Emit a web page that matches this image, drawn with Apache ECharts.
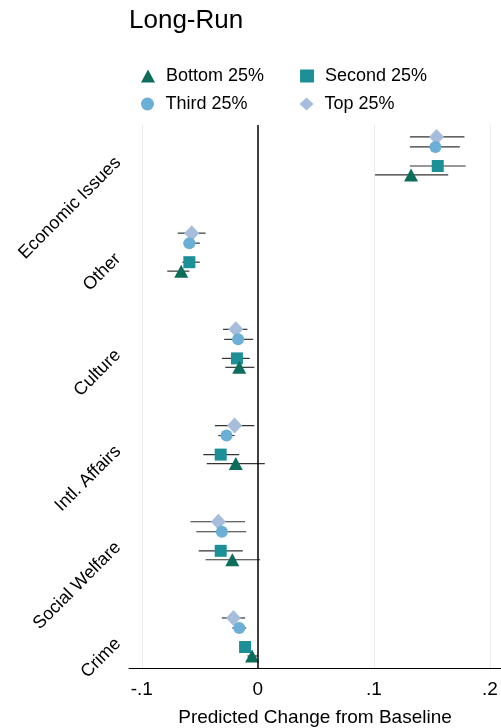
<!DOCTYPE html>
<html>
<head>
<meta charset="utf-8">
<script src="https://cdn.jsdelivr.net/npm/echarts@6/dist/echarts.min.js"></script>
<style>html,body{margin:0;padding:0;background:#fff;}#chart{width:501px;height:728px;}</style>
</head>
<body>
<div id="chart"></div>
<script>
const categories = ['Economic Issues', 'Other', 'Culture', 'Intl. Affairs', 'Social Welfare', 'Crime'];
const seriesNames = ['Bottom 25%', 'Second 25%', 'Third 25%', 'Top 25%'];
const xTicks = [-0.1, 0, 0.1, 0.2];

const bottomEst = [0.132, -0.066, -0.016, -0.019, -0.022, -0.005];
const bottomLo  = [0.101, -0.078, -0.028, -0.044, -0.045, -0.009];
const bottomHi  = [0.164, -0.059, -0.003,  0.006,  0.002,  0.000];

const secondEst = [0.155, -0.059, -0.018, -0.032, -0.032, -0.011];
const secondLo  = [0.131, -0.065, -0.031, -0.047, -0.051, -0.015];
const secondHi  = [0.179, -0.050, -0.007, -0.016, -0.013, -0.007];

const thirdEst = [0.153, -0.059, -0.017, -0.027, -0.031, -0.016];
const thirdLo  = [0.131, -0.064, -0.029, -0.034, -0.053, -0.022];
const thirdHi  = [0.174, -0.050, -0.004, -0.020, -0.010, -0.010];

const topEst = [0.154, -0.057, -0.019, -0.020, -0.034, -0.021];
const topLo  = [0.131, -0.069, -0.030, -0.037, -0.058, -0.031];
const topHi  = [0.178, -0.045, -0.009, -0.003, -0.011, -0.011];

// layout (not data)
const FONT = "Helvetica, 'Liberation Sans', Arial, sans-serif";
const groups = [
  {name: 'Top 25%',    est: topEst,    lo: topLo,    hi: topHi,    off: -0.239, symbol: 'diamond',  size: [15, 16], color: '#a6bddb'},
  {name: 'Third 25%',  est: thirdEst,  lo: thirdLo,  hi: thirdHi,  off: -0.135, symbol: 'circle',   size: 12,       color: '#6baed6'},
  {name: 'Second 25%', est: secondEst, lo: secondLo, hi: secondHi, off: 0.063,  symbol: 'rect',     size: [12, 12], color: '#1d8f97'},
  {name: 'Bottom 25%', est: bottomEst, lo: bottomLo, hi: bottomHi, off: 0.156,  symbol: 'triangle', size: [14, 13], color: '#0b6d5a'}
];

const series = [];
// gridlines + zero line
series.push({
  type: 'scatter', data: [], silent: true, z: 0,
  markLine: {
    silent: true, symbol: ['none', 'none'], label: {show: false}, animation: false,
    data: xTicks.map(v => ({xAxis: v, lineStyle: {color: v === 0 ? '#000' : '#ececec', width: v === 0 ? 1.5 : 1, type: 'solid'}}))
  }
});
// CI lines
groups.forEach(g => {
  series.push({
    type: 'custom', name: g.name + ' CI', silent: true, z: 2,
    data: categories.map((c, i) => [g.lo[i], g.hi[i], i + g.off]),
    encode: {x: [0, 1], y: 2},
    renderItem: (params, api) => {
      const p1 = api.coord([api.value(0), api.value(2)]);
      const p2 = api.coord([api.value(1), api.value(2)]);
      return {type: 'line', shape: {x1: p1[0], y1: p1[1], x2: p2[0], y2: p2[1]}, style: {stroke: '#333', lineWidth: 1.2}};
    }
  });
});
// markers
groups.forEach(g => {
  series.push({
    type: 'scatter', name: g.name, z: 3,
    symbol: g.symbol, symbolSize: g.size,
    itemStyle: {color: g.color, opacity: 1},
    data: categories.map((c, i) => [g.est[i], i + g.off])
  });
});

const iconFor = {'Bottom 25%': 'triangle', 'Second 25%': 'rect', 'Third 25%': 'circle', 'Top 25%': 'diamond'};
const legendBase = {
  orient: 'horizontal', padding: 0, itemWidth: 14, itemHeight: 13,
  textStyle: {fontSize: 18, color: '#000', fontFamily: FONT, padding: [0, 0, 0, 6]},
  selectedMode: false
};

const chart = echarts.init(document.getElementById('chart'), null, {renderer: 'canvas'});
chart.setOption({
  animation: false,
  backgroundColor: '#fff',
  title: {text: 'Long-Run', left: 129, top: 8, padding: 0,
    textStyle: {fontSize: 26, fontWeight: 'normal', color: '#000', fontFamily: FONT}},
  legend: [
    Object.assign({}, legendBase, {left: 141, top: 67, itemGap: 36,
      data: [seriesNames[0], seriesNames[1]].map(n => ({name: n, icon: iconFor[n]}))}),
    Object.assign({}, legendBase, {left: 141, top: 95, itemGap: 52,
      data: [seriesNames[2], seriesNames[3]].map(n => ({name: n, icon: iconFor[n]}))})
  ],
  grid: {left: 129, right: 0, top: 125, bottom: 60, containLabel: false, outerBoundsMode: 'none'},
  xAxis: {
    type: 'value', min: -0.111, max: 0.2095,
    axisLine: {show: true, onZero: false, lineStyle: {color: '#000', width: 1}},
    axisTick: {show: false},
    splitLine: {show: false},
    axisLabel: {
      customValues: xTicks, fontSize: 19, color: '#000', fontFamily: FONT, margin: 12,
      formatter: v => v === 0 ? '0' : String(Math.round(v * 10) / 10).replace('0.', '.')
    },
    name: 'Predicted Change from Baseline', nameLocation: 'middle', nameGap: 40,
    nameTextStyle: {fontSize: 19, color: '#000', fontFamily: FONT}
  },
  yAxis: {
    type: 'value', inverse: true, min: -0.363, max: 5.281,
    axisLine: {show: false, onZero: false}, axisTick: {show: false}, splitLine: {show: false},
    axisLabel: {
      customValues: categories.map((c, i) => i),
      formatter: v => categories[Math.round(v)] || '',
      rotate: 45, fontSize: 18, color: '#000', fontFamily: FONT, margin: 11
    }
  },
  series: series
});
</script>
</body>
</html>
